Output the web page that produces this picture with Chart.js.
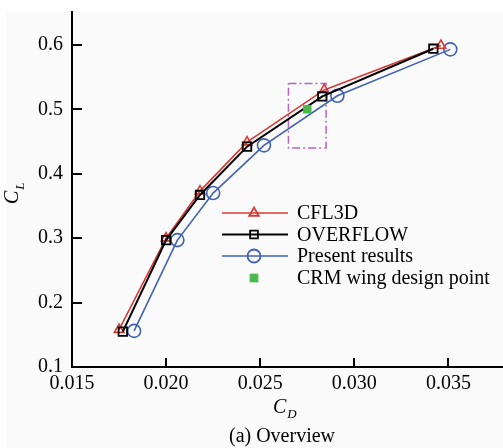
<!DOCTYPE html>
<html><head><meta charset="utf-8">
<script src="https://cdn.jsdelivr.net/npm/chart.js@4.4.1/dist/chart.umd.min.js"></script>
<style>html,body{margin:0;padding:0;background:#fff;overflow:hidden}#wrap{width:503px;height:448px;position:relative}</style>
</head><body><div id="wrap"><canvas id="c" width="503" height="448"></canvas></div>
<script>
const cfl3dCD = [0.0175, 0.0200, 0.0218, 0.0243, 0.0284, 0.0346];
const cfl3dCL = [0.158, 0.300, 0.373, 0.449, 0.530, 0.599];
const overflowCD = [0.0177, 0.0200, 0.0218, 0.0243, 0.0283, 0.0342];
const overflowCL = [0.155, 0.297, 0.367, 0.442, 0.520, 0.594];
const presentCD = [0.0183, 0.0206, 0.0225, 0.0252, 0.0291, 0.0351];
const presentCL = [0.156, 0.297, 0.370, 0.444, 0.521, 0.593];
const designCD = [0.0275];
const designCL = [0.500];
const boxCD = [0.0265, 0.0285, 0.0285, 0.0265, 0.0265];
const boxCL = [0.540, 0.540, 0.440, 0.440, 0.540];
const xTicks = [0.015, 0.020, 0.025, 0.030, 0.035];
const yTicks = [0.1, 0.2, 0.3, 0.4, 0.5, 0.6];
const seriesNames = ['CFL3D', 'OVERFLOW', 'Present results', 'CRM wing design point'];

const RED = '#d63a36', BLACK = '#000000', BLUE = '#3f62b5', GREEN = '#4cb84c', PURPLE = '#b565c4';
const FONT = '"Liberation Serif", "Times New Roman", serif';
const FS = 20;

function pts(xs, ys) { return xs.map((x, i) => ({ x: x, y: ys[i] })); }

const bgPlugin = {
  id: 'bg',
  beforeDraw(chart) {
    const ctx = chart.ctx;
    ctx.save();
    ctx.fillStyle = '#fafafa';
    ctx.fillRect(7, 12, chart.width - 7, chart.height - 12);
    ctx.restore();
  }
};

const decoPlugin = {
  id: 'deco',
  afterDraw(chart) {
    const ctx = chart.ctx;
    const xs = chart.scales.x, ys = chart.scales.y;
    const ca = chart.chartArea;
    ctx.save();
    // inward ticks
    ctx.strokeStyle = '#000';
    ctx.lineWidth = 2;
    ctx.beginPath();
    xTicks.forEach(v => {
      const px = Math.round(xs.getPixelForValue(v));
      ctx.moveTo(px, ca.bottom);
      ctx.lineTo(px, ca.bottom - 9);
    });
    yTicks.forEach(v => {
      const py = Math.round(ys.getPixelForValue(v));
      ctx.moveTo(ca.left, py);
      ctx.lineTo(ca.left + 10, py);
    });
    ctx.stroke();

    // legend
    const rows = [
      { name: seriesNames[0], color: RED, style: 'triangle', line: true, r: 5.5, lw: 1.6 },
      { name: seriesNames[1], color: BLACK, style: 'rect', line: true, r: 5.5, lw: 2 },
      { name: seriesNames[2], color: BLUE, style: 'circle', line: true, r: 6.5, lw: 1.6 },
      { name: seriesNames[3], color: GREEN, style: 'rect', line: false, r: 5.5, lw: 1 }
    ];
    const rowY = [213, 234.5, 256, 278];
    ctx.font = FS + 'px ' + FONT;
    ctx.textBaseline = 'middle';
    ctx.textAlign = 'left';
    rows.forEach((r, i) => {
      const y = rowY[i];
      if (r.line) {
        ctx.strokeStyle = r.color;
        ctx.lineWidth = r.lw;
        ctx.beginPath();
        ctx.moveTo(222, y);
        ctx.lineTo(288, y);
        ctx.stroke();
        ctx.fillStyle = 'rgba(0,0,0,0)';
        ctx.lineWidth = 1.8;
        Chart.helpers.drawPoint(ctx, { pointStyle: r.style, radius: r.r, borderWidth: 1.8 }, 254, y);
      } else {
        ctx.fillStyle = r.color;
        ctx.strokeStyle = r.color;
        ctx.lineWidth = 1;
        Chart.helpers.drawPoint(ctx, { pointStyle: r.style, radius: r.r, borderWidth: 1 }, 254, y);
      }
      ctx.fillStyle = '#000';
      ctx.fillText(r.name, 297, y + 1);
    });

    // axis titles
    ctx.fillStyle = '#000';
    ctx.textBaseline = 'middle';
    ctx.font = 'italic ' + FS + 'px ' + FONT;
    ctx.fillText('C', 273, 408);
    const cw = ctx.measureText('C').width;
    ctx.font = 'italic 13px ' + FONT;
    ctx.fillText('D', 273 + cw + 1, 415);

    ctx.save();
    ctx.translate(13, 204);
    ctx.rotate(-Math.PI / 2);
    ctx.font = 'italic ' + FS + 'px ' + FONT;
    ctx.fillText('C', 0, 0);
    const cw2 = ctx.measureText('C').width;
    ctx.font = 'italic 13px ' + FONT;
    ctx.fillText('L', cw2 + 1, 8);
    ctx.restore();

    ctx.font = FS + 'px ' + FONT;
    ctx.textAlign = 'center';
    ctx.fillText('(a) Overview', 282, 437);
    ctx.restore();
  }
};

new Chart(document.getElementById('c'), {
  type: 'scatter',
  data: {
    datasets: [
      {
        label: seriesNames[3], data: pts(designCD, designCL), order: 0,
        pointStyle: 'rect', pointRadius: 6, backgroundColor: GREEN, borderColor: GREEN, borderWidth: 0, showLine: false
      },
      {
        label: seriesNames[1], data: pts(overflowCD, overflowCL), order: 1, showLine: true,
        borderColor: BLACK, borderWidth: 2, pointStyle: 'rect', pointRadius: 6,
        pointBorderWidth: 1.8, pointBackgroundColor: 'rgba(0,0,0,0)', pointBorderColor: BLACK
      },
      {
        label: seriesNames[0], data: pts(cfl3dCD, cfl3dCL), order: 2, showLine: true,
        borderColor: RED, borderWidth: 1.6, pointStyle: 'triangle', pointRadius: 5.5,
        pointBorderWidth: 1.6, pointBackgroundColor: 'rgba(0,0,0,0)', pointBorderColor: RED
      },
      {
        label: seriesNames[2], data: pts(presentCD, presentCL), order: 3, showLine: true,
        borderColor: BLUE, borderWidth: 1.6, pointStyle: 'circle', pointRadius: 6.5,
        pointBorderWidth: 1.6, pointBackgroundColor: 'rgba(0,0,0,0)', pointBorderColor: BLUE
      },
      {
        label: 'box', data: pts(boxCD, boxCL), order: 4, showLine: true,
        borderColor: PURPLE, borderWidth: 1.5, borderDash: [8, 3, 2, 3], pointRadius: 0
      }
    ]
  },
  options: {
    responsive: false,
    animation: false,
    devicePixelRatio: 1,
    layout: { autoPadding: false, padding: { left: 0, right: 0, top: 12, bottom: 0 } },
    plugins: { legend: { display: false }, tooltip: { enabled: false } },
    scales: {
      x: {
        type: 'linear', min: 0.015, max: 0.0379,
        afterFit(s) { s.height = 81; s.paddingLeft = 0; s.paddingRight = 0; },
        afterBuildTicks(s) { s.ticks = xTicks.map(v => ({ value: v })); },
        grid: { display: true, drawOnChartArea: false, drawTicks: false },
        border: { display: true, color: '#000', width: 2 },
        ticks: { padding: 5, color: '#000', font: { family: FONT, size: FS }, callback: v => v.toFixed(3), maxRotation: 0, autoSkip: false }
      },
      y: {
        type: 'linear', min: 0.1, max: 0.651,
        afterFit(s) { s.width = 72; s.paddingTop = 0; s.paddingBottom = 0; },
        afterBuildTicks(s) { s.ticks = yTicks.map(v => ({ value: v })); },
        grid: { display: true, drawOnChartArea: false, drawTicks: false },
        border: { display: true, color: '#000', width: 2 },
        ticks: { padding: 9, color: '#000', font: { family: FONT, size: FS }, callback: v => v.toFixed(1), autoSkip: false }
      }
    }
  },
  plugins: [bgPlugin, decoPlugin]
});
</script>
</body></html>
